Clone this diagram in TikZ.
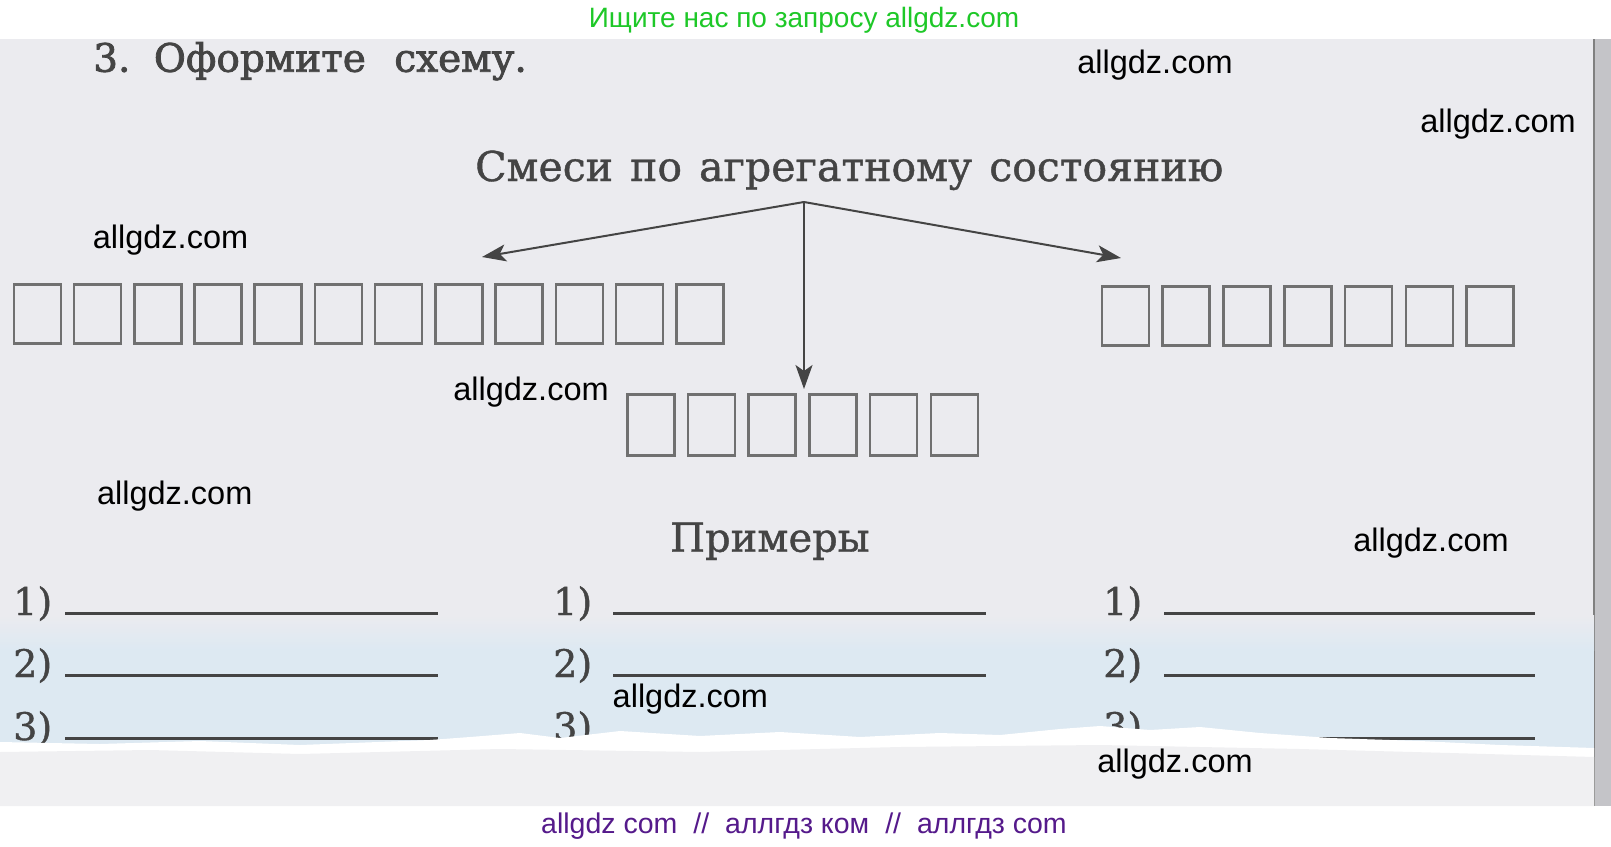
\documentclass[tikz,border=0pt]{standalone}
\usepackage{fontspec}
\setmainfont{DejaVu Serif}
\newfontfamily\titlefont[FakeBold=2]{DejaVu Serif}
\newfontfamily\semifont[FakeBold=1]{DejaVu Serif}
\newfontfamily\wmfont{Liberation Sans}
\usetikzlibrary{arrows.meta}
\definecolor{pagegray}{RGB}{235,235,239}
\definecolor{blueband}{RGB}{221,233,242}
\definecolor{paperlow}{RGB}{240,240,242}
\definecolor{ink}{RGB}{68,68,68}
\definecolor{boxink}{RGB}{112,112,112}
\definecolor{wmgreen}{RGB}{30,200,40}
\definecolor{wmpurple}{RGB}{85,26,139}
\definecolor{edgegray}{RGB}{196,196,200}
\begin{document}
\begin{tikzpicture}[x=1pt,y=-1pt,
  cell/.style={draw=boxink, line width=2.6pt, minimum width=47pt, minimum height=59pt, inner sep=0pt, anchor=north west},
  arr/.style={draw=ink, line width=2pt, -{Stealth[length=24pt,width=17pt,inset=6pt]}},
  ans/.style={draw=ink, line width=3pt},
  printed/.style={inner sep=0pt, anchor=base west, text=ink},
  numlab/.style={printed, font=\semifont\fontsize{38pt}{44pt}\selectfont},
  wm/.style={inner sep=0pt, anchor=base, font=\wmfont\fontsize{32.5pt}{36pt}\selectfont, text=black},
]
\useasboundingbox (0,0) rectangle (1611,846);
\fill[white] (0,0) rectangle (1611,846);
% scanned page
\fill[pagegray] (0,39) rectangle (1594,806);
\fill[edgegray] (1594,39) rectangle (1611,806);
\draw[gray, line width=1.5pt] (1594,39) -- (1594,806);
\shade[top color=pagegray, bottom color=blueband] (0,615) rectangle (1594,650);
\fill[blueband] (0,650) rectangle (1594,760);

% header
\node[inner sep=0pt, anchor=base, font=\wmfont\fontsize{28pt}{32pt}\selectfont, text=wmgreen] (hdr) at (804,27) {Ищите нас по запросу allgdz.com};

% title and heading
\node[printed, font=\titlefont\fontsize{39pt}{46pt}\selectfont] (title) at (93,71.7) {3.\hspace{7pt} Оформите\hspace{16pt} схему.};
\node[printed, font=\semifont\fontsize{41pt}{48pt}\selectfont] (head) at (475,181) {Смеси\hspace{4pt} по\hspace{4pt} агрегатному\hspace{4pt} состоянию};

% boxes
\foreach \i in {1,...,12} {
  \node[cell] (l\i) at ({12.5+60.23*(\i-1)},283) {};
}
\foreach \i in {1,...,7} {
  \node[cell] (r\i) at ({1100.5+60.8*(\i-1)},285) {};
}
\foreach \i in {1,...,6} {
  \node[cell, minimum height=61pt] (c\i) at ({626+60.7*(\i-1)},393) {};
}

% arrows
\coordinate (o) at (804,202);
\coordinate (tl) at (482,257);
\coordinate (tr) at (1121,258);
\coordinate (td) at (804,389);
\draw[arr] (o) -- (tl);
\draw[arr] (o) -- (tr);
\draw[arr] (o) -- (td);

% examples
\node[printed, font=\semifont\fontsize{40pt}{46pt}\selectfont] (ex) at (670,551.7) {Примеры};
\foreach \c/\lx/\sx/\ex in {1/13/65/438, 2/553/613/986, 3/1103/1164/1535} {
  \foreach \r/\yy in {1/615, 2/677, 3/740} {
    \node[numlab] (n\c\r) at (\lx,\yy) {\r)};
    \coordinate (s\c\r) at (\sx,\yy-1.5);
    \coordinate (e\c\r) at (\ex,\yy-1.5);
    \draw[ans] (s\c\r) -- (e\c\r);
  }
}

% torn lower edge
\fill[white] (0,742) -- (100,744) -- (200,741) -- (300,745) -- (430,740) -- (470,737) -- (520,733) -- (560,738) -- (620,731) -- (700,736) -- (780,732) -- (860,737) -- (940,733) -- (1000,735) -- (1060,729) -- (1100,726) -- (1150,730) -- (1200,727) -- (1260,733) -- (1330,738) -- (1420,741) -- (1500,745) -- (1594,748) -- (1594,806) -- (0,806) -- cycle;
\fill[paperlow] (0,752) -- (150,750) -- (300,754) -- (500,749) -- (700,752) -- (900,747) -- (1100,745) -- (1300,749) -- (1450,753) -- (1594,757) -- (1594,806) -- (0,806) -- cycle;

% watermarks
\node[wm] (w1) at (1155,73) {allgdz.com};
\node[wm] (w2) at (1498,132) {allgdz.com};
\node[wm] (w3) at (170.5,248) {allgdz.com};
\node[wm] (w4) at (531,400) {allgdz.com};
\node[wm] (w5) at (174.7,504) {allgdz.com};
\node[wm] (w6) at (1431,551) {allgdz.com};
\node[wm] (w7) at (690.4,707) {allgdz.com};
\node[wm] (w8) at (1175,772) {allgdz.com};

% footer
\node[inner sep=0pt, anchor=base, font=\wmfont\fontsize{28.5pt}{32pt}\selectfont, text=wmpurple] (ftr) at (804,833) {allgdz com\hspace{16pt}//\hspace{16pt}аллгдз ком\hspace{16pt}//\hspace{16pt}аллгдз com};
\end{tikzpicture}
\end{document}
